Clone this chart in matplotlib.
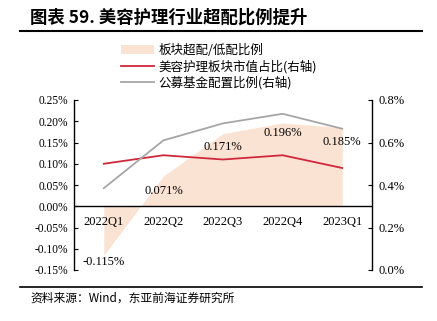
import numpy as np
import matplotlib.pyplot as plt
from matplotlib.lines import Line2D
from matplotlib.patches import Patch

plt.rcParams["font.family"] = ["Liberation Serif", "Noto Sans CJK SC"]

quarters = ["2022Q1", "2022Q2", "2022Q3", "2022Q4", "2023Q1"]
overweight = [-0.115, 0.071, 0.171, 0.196, 0.185]      # 板块超配/低配比例, %
market_share = [0.50, 0.54, 0.52, 0.54, 0.48]          # 美容护理板块市值占比 (右轴), %
fund_weight = [0.385, 0.61, 0.69, 0.735, 0.665]        # 公募基金配置比例 (右轴), %

left_ticks = [-0.15, -0.10, -0.05, 0.0, 0.05, 0.10, 0.15, 0.20, 0.25]
right_ticks = [0.0, 0.2, 0.4, 0.6, 0.8]

AREA = "#fbe3d4"
RED = "#d0283a"
GRAY = "#a6a6a6"
CJK = ["Noto Sans CJK SC", "DejaVu Sans"]

fig = plt.figure(figsize=(4.37, 3.21), dpi=100)
ax = fig.add_axes([74 / 437, 1 - 270 / 321, 298 / 437, 170 / 321])
ax2 = ax.twinx()

x = np.arange(len(quarters))
ax.fill_between(x, 0, overweight, color=AREA, lw=0, zorder=1)
ax.axhline(0, color="black", lw=1.0, zorder=3)
ax.set_xlim(-0.5, 4.5)
ax.set_ylim(-0.15, 0.25)
ax.set_yticks(left_ticks)
ax.set_yticklabels(["%.2f%%" % v for v in left_ticks], fontsize=8.3)
ax.set_xticks([])
for sp in ["top", "bottom", "right"]:
    ax.spines[sp].set_visible(False)
ax.spines["left"].set_linewidth(1.0)
ax.tick_params(axis="y", direction="in", length=3, width=0.8, pad=4)

# value labels sit just under each point
offsets = [-5, -11, -9.5, -7.5, -10]
for xi, v, off in zip(x, overweight, offsets):
    ax.annotate("%.3f%%" % v, (xi, v), xytext=(0, off), textcoords="offset points",
                ha="center", va="center", fontsize=9, zorder=5)
    ax.text(xi, -0.022, quarters[xi], ha="center", va="top", fontsize=9)

ax2.plot(x, market_share, color=RED, lw=1.3, zorder=4)
ax2.plot(x, fund_weight, color=GRAY, lw=1.3, zorder=4)
ax2.set_ylim(0, 0.8)
ax2.set_yticks(right_ticks)
ax2.set_yticklabels(["%.1f%%" % v for v in right_ticks], fontsize=9)
for sp in ["top", "bottom", "left"]:
    ax2.spines[sp].set_visible(False)
ax2.spines["right"].set_linewidth(1.0)
ax2.tick_params(axis="y", direction="in", length=3, width=0.8, pad=5)

handles = [
    Patch(facecolor=AREA, edgecolor="none"),
    Line2D([], [], color=RED, lw=1.3),
    Line2D([], [], color=GRAY, lw=1.3),
]
labels = ["板块超配/低配比例", "美容护理板块市值占比(右轴)", "公募基金配置比例(右轴)"]
fig.legend(handles, labels, loc="upper left", bbox_to_anchor=(116 / 437, 1 - 39 / 321),
           frameon=False, prop={"family": CJK, "size": 9}, handlelength=2.6,
           handletextpad=0.4, labelspacing=0.2, borderaxespad=0)

fig.text(30 / 437, 1 - 18 / 321, "图表 59. 美容护理行业超配比例提升", fontsize=12.5,
         fontweight="bold", family=CJK, va="center", ha="left")
fig.add_artist(Line2D([20 / 437, 422 / 437], [1 - 31 / 321] * 2, color="black", lw=1.5))
fig.add_artist(Line2D([20 / 437, 422 / 437], [1 - 287 / 321] * 2, color="black", lw=1.2))
fig.text(30 / 437, 1 - 298 / 321, "资料来源：Wind，东亚前海证券研究所", fontsize=8.5,
         family=CJK, va="center", ha="left")

fig.savefig("out.png", dpi=100)
